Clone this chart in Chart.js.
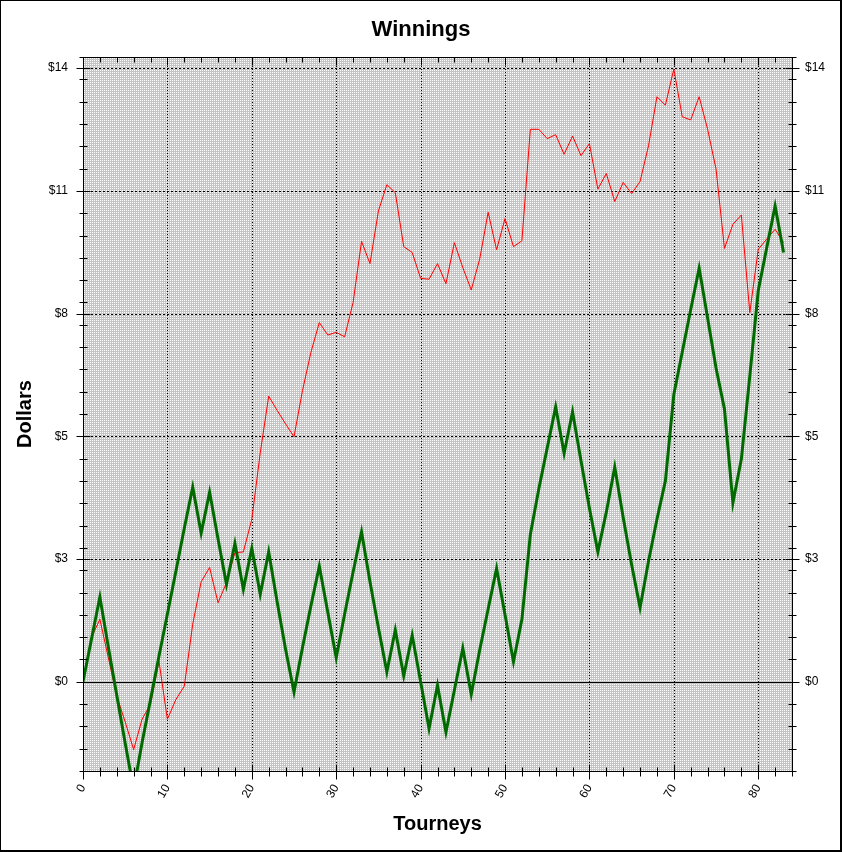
<!DOCTYPE html>
<html>
<head>
<meta charset="utf-8">
<title>Winnings</title>
<script src="https://cdn.jsdelivr.net/npm/chart.js"></script>
<style>
  html, body { margin: 0; padding: 0; background: #fff; }
  canvas { display: block; }
</style>
</head>
<body>
<canvas id="graph" width="842" height="852"></canvas>
<script>
// tourney numbers (x axis)
const tourneys = [
  0, 1, 2, 3, 4, 5, 6, 7, 8, 9, 10, 11, 12, 13, 14, 15, 16, 17, 18, 19,
  20, 21, 22, 23, 24, 25, 26, 27, 28, 29, 30, 31, 32, 33, 34, 35, 36, 37, 38, 39,
  40, 41, 42, 43, 44, 45, 46, 47, 48, 49, 50, 51, 52, 53, 54, 55, 56, 57, 58, 59,
  60, 61, 62, 63, 64, 65, 66, 67, 68, 69, 70, 71, 72, 73, 74, 75, 76, 77, 78, 79,
  80, 81, 82, 83
];

// thin red line
const redLine = [
  0, 0.99, 1.40, 0.54, -0.32, -0.90, -1.52, -0.84, -0.50, 0.46,
  -0.84, -0.40, -0.10, 1.29, 2.24, 2.56, 1.77, 2.22, 2.89, 2.91,
  3.64, 5.13, 6.40, 6.08, 5.78, 5.49, 6.52, 7.38, 8.05, 7.77,
  7.83, 7.73, 8.50, 9.87, 9.37, 10.55, 11.14, 10.96, 9.75, 9.62,
  9.04, 9.02, 9.37, 8.92, 9.84, 9.28, 8.78, 9.47, 10.52, 9.68,
  10.38, 9.75, 9.88, 12.38, 12.38, 12.17, 12.26, 11.82, 12.23, 11.79,
  12.06, 11.04, 11.39, 10.76, 11.19, 10.94, 11.21, 12.01, 13.11, 12.92,
  13.73, 12.66, 12.59, 13.11, 12.38, 11.49, 9.71, 10.25, 10.46, 8.27,
  9.69, 9.92, 10.14, 9.84
];

// thick green line
const greenLine = [
  0, 0.95, 1.90, 0.78, -0.30, -1.38, -2.42, -1.36, -0.40, 0.57,
  1.52, 2.47, 3.44, 4.36, 3.33, 4.25, 3.20, 2.18, 3.10, 2.07,
  2.99, 1.96, 2.91, 1.79, 0.73, -0.23, 0.76, 1.70, 2.59, 1.56,
  0.54, 1.52, 2.46, 3.36, 2.24, 1.21, 0.22, 1.16, 0.13, 1.04,
  0.00, -1.05, -0.08, -1.13, -0.19, 0.75, -0.28, 0.71, 1.63, 2.54,
  1.50, 0.45, 1.40, 3.30, 4.32, 5.24, 6.16, 5.12, 6.05, 4.95,
  3.89, 2.91, 3.80, 4.81, 3.68, 2.62, 1.66, 2.70, 3.64, 4.50,
  6.44, 7.39, 8.34, 9.27, 8.15, 7.03, 6.11, 4.01, 4.99, 6.85,
  8.76, 9.72, 10.66, 9.62
];

const xTickValues = [0, 10, 20, 30, 40, 50, 60, 70, 80];
const yTickValues = [0, 2.75, 5.5, 8.25, 11, 13.75];
const yTickLabels = ["$0", "$3", "$5", "$8", "$11", "$14"];

const FONT = "'Liberation Sans', Arial, sans-serif";

function makePattern(c) {
  const tile = document.createElement("canvas");
  tile.width = 2;
  tile.height = 2;
  const t = tile.getContext("2d");
  t.fillStyle = "#c4c4c4";
  t.fillRect(0, 0, 2, 2);
  t.fillStyle = "#ffffff";
  t.fillRect(0, 0, 1, 1);
  return c.createPattern(tile, "repeat");
}

function seg(c, x1, y1, x2, y2) {
  c.beginPath();
  c.moveTo(x1, y1);
  c.lineTo(x2, y2);
  c.stroke();
}

// background, dotted grid, frame and tick marks
const panel = {
  id: "panel",
  beforeDraw(chart) {
    const c = chart.ctx;
    c.save();
    c.fillStyle = "#fff";
    c.fillRect(0, 0, chart.width, chart.height);
    c.restore();
  },
  beforeDatasetsDraw(chart) {
    const c = chart.ctx;
    const a = chart.chartArea;
    const x = chart.scales.x, y = chart.scales.y;
    c.save();
    c.fillStyle = makePattern(c);
    c.fillRect(a.left, a.top, a.right - a.left, a.bottom - a.top);
    c.strokeStyle = "#000";
    c.lineWidth = 1;
    c.setLineDash([1, 2]);
    xTickValues.forEach(v => {
      if (v === 0) return;
      const px = Math.round(x.getPixelForValue(v)) + 0.5;
      seg(c, px, a.top, px, a.bottom);
    });
    c.setLineDash([2, 2]);
    yTickValues.forEach(v => {
      if (v === 0) return;
      const py = Math.round(y.getPixelForValue(v)) + 0.5;
      seg(c, a.left, py, a.right, py);
    });
    c.setLineDash([]);
    const p0 = Math.round(y.getPixelForValue(0)) + 0.5;
    seg(c, a.left, p0, a.right, p0);
    c.restore();
  },
  afterDraw(chart) {
    const c = chart.ctx;
    const a = chart.chartArea;
    const x = chart.scales.x, y = chart.scales.y;
    c.save();
    c.strokeStyle = "#000";
    c.lineWidth = 1;
    // outer frame
    c.strokeRect(0.5, 0.5, chart.width - 1, chart.height - 1);
    seg(c, chart.width - 1.5, 0, chart.width - 1.5, chart.height);
    seg(c, 0, chart.height - 1.5, chart.width, chart.height - 1.5);
    // plot box
    const L = Math.round(a.left) + 0.5, R = Math.round(a.right) + 0.5;
    const T = Math.round(a.top) + 0.5, B = Math.round(a.bottom) + 0.5;
    c.strokeRect(L, T, R - L, B - T);
    // y ticks, left and right
    for (let v = -2; v <= 14.001; v += 0.5) {
      const py = Math.round(y.getPixelForValue(v)) + 0.5;
      seg(c, L - 4, py, L + 4, py);
      seg(c, R - 4, py, R + 4, py);
    }
    yTickValues.forEach(v => {
      const py = Math.round(y.getPixelForValue(v)) + 0.5;
      seg(c, L - 7, py, L + 7, py);
      seg(c, R - 7, py, R + 7, py);
    });
    // x ticks, bottom and top (top ones point inwards)
    for (let v = 0; v <= 84; v += 2) {
      const px = Math.round(x.getPixelForValue(v)) + 0.5;
      seg(c, px, B - 4, px, B + 5);
      seg(c, px, T, px, T + 5);
    }
    xTickValues.forEach(v => {
      const px = Math.round(x.getPixelForValue(v)) + 0.5;
      seg(c, px, B - 7, px, B + 8);
      seg(c, px, T, px, T + 8);
    });
    c.restore();
  }
};

const tickFont = { family: FONT, size: 12 };
const titleFont = { family: FONT, size: 20, weight: "bold" };

const ctx = document.getElementById("graph").getContext("2d");
window.myChart = new Chart(ctx, {
  type: "line",
  data: {
    datasets: [
      {
        label: "green",
        data: tourneys.map((t, i) => ({ x: t, y: greenLine[i] })),
        borderColor: "#006a00",
        borderWidth: 3,
        pointRadius: 0,
        tension: 0,
        clip: 0,
        order: 0
      },
      {
        label: "red",
        data: tourneys.map((t, i) => ({ x: t, y: redLine[i] })),
        borderColor: "#ff0000",
        borderWidth: 1,
        pointRadius: 0,
        tension: 0,
        clip: 0,
        order: 1
      }
    ]
  },
  options: {
    responsive: false,
    animation: false,
    events: [],
    layout: { padding: 0 },
    plugins: {
      legend: { display: false },
      tooltip: { enabled: false },
      title: {
        display: true,
        text: "Winnings",
        color: "#000",
        font: { family: FONT, size: 22, weight: "bold" },
        padding: { top: 17, bottom: 13.6 }
      }
    },
    scales: {
      x: {
        type: "linear",
        min: 0,
        max: 84,
        grid: { display: false, drawTicks: false },
        border: { display: false },
        afterBuildTicks: s => { s.ticks = xTickValues.map(v => ({ value: v })); },
        afterFit: s => { s.height = 81; },
        ticks: { color: "#000", font: tickFont, minRotation: 60, maxRotation: 60, padding: 11, autoSkip: false },
        title: { display: true, text: "Tourneys", color: "#000", font: titleFont, padding: { top: 0, bottom: 16 } }
      },
      y: {
        type: "linear",
        position: "left",
        min: -2,
        max: 14,
        grid: { display: false, drawTicks: false },
        border: { display: false },
        afterBuildTicks: s => { s.ticks = yTickValues.map(v => ({ value: v })); },
        afterFit: s => { s.width = 83; },
        ticks: { color: "#000", font: tickFont, padding: 15, callback: v => yTickLabels[yTickValues.indexOf(v)] },
        title: { display: true, text: "Dollars", color: "#000", font: titleFont, padding: { top: 13, bottom: 0 } }
      },
      y2: {
        type: "linear",
        position: "right",
        min: -2,
        max: 14,
        grid: { display: false, drawTicks: false },
        border: { display: false },
        afterBuildTicks: s => { s.ticks = yTickValues.map(v => ({ value: v })); },
        afterFit: s => { s.width = 50; },
        ticks: { color: "#000", font: tickFont, padding: 13, callback: v => yTickLabels[yTickValues.indexOf(v)] }
      }
    }
  },
  plugins: [panel]
});
</script>
</body>
</html>
